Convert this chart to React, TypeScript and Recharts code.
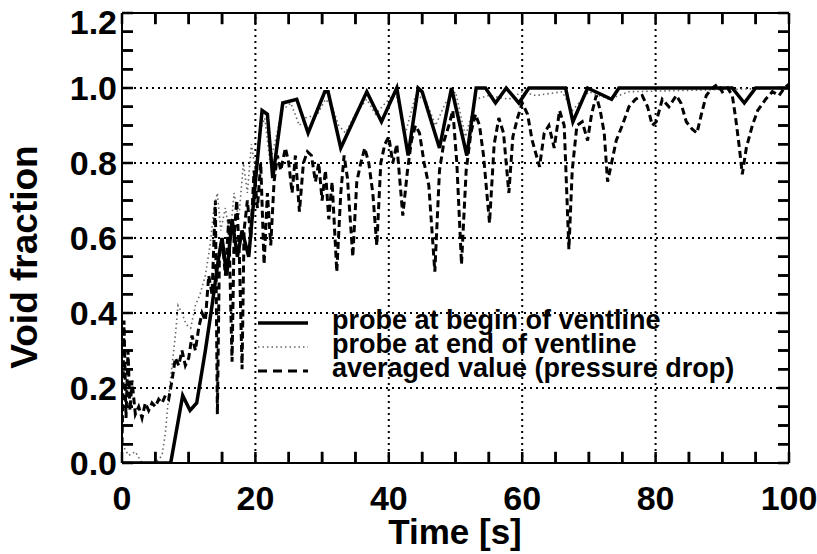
import React from 'react';
import { LineChart, Line, XAxis, YAxis, ReferenceLine, Legend } from 'recharts';

const FONT = '"Liberation Sans", Arial, Helvetica, sans-serif';

// tick positions
const xTicks = [0, 20, 40, 60, 80, 100];
const yTicks = [0, 0.2, 0.4, 0.6, 0.8, 1.0, 1.2];
const xAllTicks = [0, 5, 10, 15, 20, 25, 30, 35, 40, 45, 50, 55, 60, 65, 70, 75, 80, 85, 90, 95, 100];
const yAllTicks = [
  0, 0.05, 0.1, 0.15, 0.2, 0.25, 0.3, 0.35, 0.4, 0.45, 0.5, 0.55, 0.6,
  0.65, 0.7, 0.75, 0.8, 0.85, 0.9, 0.95, 1.0, 1.05, 1.1, 1.15, 1.2
];
const xMinorTicks = [5, 10, 15, 25, 30, 35, 45, 50, 55, 65, 70, 75, 85, 90, 95];
const yMinorTicks = [
  0.05, 0.1, 0.15, 0.25, 0.3, 0.35, 0.45, 0.5, 0.55, 0.65, 0.7, 0.75,
  0.85, 0.9, 0.95, 1.05, 1.1, 1.15
];

// probe at begin of ventline
const beginTime = [
  0, 7.3, 9.1, 10.2, 11.2, 12.5, 13.5, 14.5, 15, 15.7,
  16.5, 17.3, 18, 19, 20, 21, 21.8, 22.6, 24.1, 26.2,
  27.9, 30.4, 30.9, 32.8, 36.7, 38.9, 41.2, 42.9, 44.4, 45,
  47.6, 49.4, 51.7, 53.1, 54.5, 56, 57.6, 59.5, 61, 66.5,
  67.6, 69.8, 73.4, 74.5, 91.5, 93.3, 95, 100
];
const beginVoid = [
  0, 0, 0.18, 0.14, 0.16, 0.3, 0.42, 0.55, 0.6, 0.5,
  0.65, 0.55, 0.62, 0.55, 0.75, 0.94, 0.93, 0.76, 0.96, 0.97,
  0.88, 0.99, 0.99, 0.84, 0.99, 0.91, 1.0, 0.82, 1.0, 0.99,
  0.84, 1.0, 0.82, 1.0, 1.0, 0.96, 1.0, 0.96, 1.0, 1.0,
  0.91, 1.0, 0.97, 1.0, 1.0, 0.96, 1.0, 1.0
];

// probe at end of ventline
const endTime = [
  0, 1, 2, 3, 5, 6, 6.5, 7, 7.5, 8,
  8.4, 9, 9.6, 10.3, 11, 11.7, 12.5, 13.2, 13.8, 14.3,
  14.8, 15.5, 16.2, 16.8, 17.5, 18.2, 18.8, 19.4, 20, 20.6,
  21.4, 22.2, 23, 24, 25.3, 26.6, 27.5, 29.3, 30.5, 31.5,
  32.5, 33.5, 35, 36.7, 38, 39.5, 41, 42.5, 44, 45.5,
  47, 48.5, 50, 51.5, 53, 55, 58, 60, 62, 66,
  67.5, 70, 73, 76, 100
];
const endVoid = [
  0.05, 0.02, 0.03, 0, 0, 0.02, 0.08, 0.18, 0.26, 0.34,
  0.42, 0.4, 0.37, 0.36, 0.42, 0.45, 0.5, 0.58, 0.68, 0.72,
  0.62, 0.68, 0.6, 0.72, 0.65, 0.8, 0.72, 0.85, 0.78, 0.88,
  0.92, 0.8, 0.86, 0.94, 0.96, 0.9, 0.92, 0.93, 0.97, 0.95,
  0.9, 0.88, 0.93, 0.97, 0.93, 0.96, 0.99, 0.88, 0.98, 0.97,
  0.9, 0.96, 0.99, 0.87, 0.97, 0.98, 0.97, 0.99, 0.98, 0.99,
  0.94, 0.99, 0.97, 0.99, 1.0
];

// averaged value (pressure drop)
const avgTime = [
  0, 0.3, 0.6, 0.9, 1.2, 1.5, 2, 2.5, 3, 3.5,
  4, 4.5, 5, 5.5, 6, 6.5, 7, 7.5, 8, 8.5,
  9, 9.5, 10, 10.5, 11, 11.5, 12, 12.5, 13, 13.5,
  14, 14.3, 14.6, 15, 15.5, 16, 16.5, 16.8, 17.2, 17.6,
  18, 18.3, 18.8, 19.3, 19.8, 20.3, 20.8, 21.3, 21.8, 22.3,
  22.8, 23.3, 23.8, 24.5, 25, 25.5, 26, 26.6, 27.2, 27.8,
  28.4, 29, 29.5, 30, 30.5, 31, 31.5, 32.2, 32.8, 33.3,
  33.8, 34.6, 35.2, 35.8, 36.4, 37, 37.6, 38.2, 38.8, 39.4,
  40, 40.6, 41.2, 42.1, 42.8, 43.4, 44, 44.6, 45.3, 46,
  46.9, 47.6, 48.3, 49, 49.6, 50.2, 50.9, 51.6, 52.3, 53,
  53.6, 54.2, 55.1, 55.8, 56.5, 57.2, 58, 58.6, 59.3, 60,
  60.8, 61.5, 62.6, 63.3, 64, 64.8, 65.6, 66.3, 67, 67.5,
  68.2, 69, 69.8, 70.4, 71.1, 71.7, 72.3, 72.8, 73.4, 74.1,
  75, 76, 77, 78, 78.8, 79.5, 80.1, 81, 82, 83.1,
  83.8, 84.6, 85.5, 86.2, 87, 87.6, 88.5, 89.3, 90, 90.8,
  91.5, 92, 92.5, 93, 93.6, 94.5, 95.3, 96.5, 97.5, 98.5,
  99.3, 100
];
const avgVoid = [
  0.05, 0.38, 0.12, 0.3, 0.14, 0.22, 0.13, 0.15, 0.12, 0.16,
  0.14, 0.16, 0.15, 0.17, 0.16, 0.18, 0.17, 0.22, 0.28, 0.26,
  0.3, 0.26, 0.28, 0.34, 0.3, 0.36, 0.4, 0.38, 0.5, 0.45,
  0.7, 0.13, 0.55, 0.6, 0.5, 0.65, 0.27, 0.6, 0.7, 0.55,
  0.25, 0.62, 0.7, 0.6, 0.78, 0.68, 0.8, 0.53, 0.72, 0.58,
  0.75, 0.82, 0.78, 0.84, 0.8, 0.72, 0.82, 0.67, 0.8, 0.83,
  0.82, 0.75, 0.8, 0.7, 0.78, 0.65, 0.75, 0.51, 0.72, 0.82,
  0.76, 0.55, 0.75, 0.8, 0.84, 0.8, 0.72, 0.58, 0.8, 0.85,
  0.87, 0.8, 0.85, 0.66, 0.78, 0.86, 0.9, 0.88, 0.8, 0.74,
  0.51, 0.78, 0.86, 0.9, 0.94, 0.8, 0.53, 0.78, 0.88, 0.93,
  0.9, 0.82, 0.64, 0.85, 0.92, 0.88, 0.72, 0.87, 0.92, 0.96,
  0.93, 0.86, 0.79, 0.88, 0.9, 0.84, 0.94, 0.9, 0.57, 0.78,
  0.9, 0.91, 0.86, 0.93, 0.98, 0.94, 0.88, 0.75, 0.8, 0.86,
  0.9, 0.95, 0.97, 0.98, 0.95, 0.9, 0.91, 0.97, 0.95, 0.98,
  0.96, 0.91, 0.89, 0.88, 0.94, 0.98, 1.0, 1.01, 0.99, 1.0,
  0.98, 0.92, 0.85, 0.77, 0.84, 0.9, 0.94, 0.97, 0.99, 0.98,
  1.0, 1.01
];

const toRows = (ts: number[], vs: number[]) => ts.map((t, i) => ({ t, v: vs[i] }));

const beginData = toRows(beginTime, beginVoid);
const endData = toRows(endTime, endVoid);
const avgData = toRows(avgTime, avgVoid);

const legendItems = [
  { name: 'probe at begin of ventline', stroke: '#000', width: 3.5, dash: undefined },
  { name: 'probe at end of ventline', stroke: '#666', width: 1.6, dash: '1.5 3' },
  { name: 'averaged value (pressure drop)', stroke: '#000', width: 3, dash: '9 6' }
];

// plot box edges, from the chart margins below
const PLOT_TOP = 13;
const PLOT_RIGHT = 789;
const TICK_PX = 11;
// same tick length in axis units
const X_TICK = 1.65;
const Y_TICK = 0.03;

const renderLegend = () => (
  <svg width={500} height={84}>
    {legendItems.map((item, i) => (
      <g key={item.name}>
        <line
          x1={8}
          x2={58}
          y1={18 + i * 24}
          y2={18 + i * 24}
          stroke={item.stroke}
          strokeWidth={item.width}
          strokeDasharray={item.dash}
        />
        <text
          x={82}
          y={24 + i * 24}
          fontSize={27}
          fontWeight="bold"
          fontFamily={FONT}
          fill="#000"
        >
          {item.name}
        </text>
      </g>
    ))}
  </svg>
);

const YTitle = () => (
  <text
    transform="translate(24, 257) rotate(-90)"
    textAnchor="middle"
    dy="0.36em"
    fontSize={37}
    fontWeight="bold"
    fontFamily={FONT}
    fill="#000"
  >
    Void fraction
  </text>
);

const XTitle = () => (
  <text
    x={455}
    y={544}
    textAnchor="middle"
    fontSize={35}
    fontWeight="bold"
    fontFamily={FONT}
    fill="#000"
  >
    Time [s]
  </text>
);

// inward ticks on bottom and top, label on the major ones
const XTick = (props: any) => {
  const { x, y, payload } = props;
  const major = xTicks.includes(payload.value);
  return (
    <g>
      <rect x={x - 1.25} y={y - TICK_PX} width={2.5} height={TICK_PX} fill="#000" />
      <rect x={x - 1.25} y={PLOT_TOP} width={2.5} height={TICK_PX} fill="#000" />
      {major && (
        <text
          x={x}
          y={y + 23}
          dy="0.71em"
          textAnchor="middle"
          fontSize={34}
          fontWeight="bold"
          fontFamily={FONT}
          fill="#000"
        >
          {payload.value}
        </text>
      )}
    </g>
  );
};

// inward ticks on left and right, label on the major ones
const YTick = (props: any) => {
  const { x, y, payload } = props;
  const major = yTicks.some((t) => Math.abs(t - payload.value) < 1e-6);
  const top = payload.value > 1.19;
  return (
    <g>
      <rect x={x} y={y - 1.25} width={TICK_PX} height={2.5} fill="#000" />
      <rect x={PLOT_RIGHT - TICK_PX} y={y - 1.25} width={TICK_PX} height={2.5} fill="#000" />
      {major && (
        <text
          x={x - 5}
          y={top ? y + 9 : y}
          dy="0.355em"
          textAnchor="end"
          fontSize={34}
          fontWeight="bold"
          fontFamily={FONT}
          fill="#000"
        >
          {payload.value.toFixed(1)}
        </text>
      )}
    </g>
  );
};

const frameLine = { stroke: '#000', strokeWidth: 2 };
const gridProps = { stroke: '#000', strokeWidth: 2, strokeDasharray: '2 4' };
const tickProps = { stroke: '#000', strokeWidth: 2.5, ifOverflow: 'visible' as const };

export default function App() {
  return (
    <div style={{ position: 'absolute', left: 0, top: 0, width: 817, height: 554, background: '#fff' }}>
      <LineChart width={817} height={554} margin={{ top: PLOT_TOP, right: 817 - PLOT_RIGHT, bottom: 0, left: 0 }}>
        <XAxis
          xAxisId="b"
          dataKey="t"
          type="number"
          domain={[0, 100]}
          ticks={xAllTicks}
          interval={0}
          minTickGap={0}
          allowDataOverflow
          height={91}
          tickSize={0}
          tickMargin={0}
          tickLine={false}
          axisLine={frameLine}
          tick={<XTick />}
          label={<XTitle />}
        />
        <YAxis
          yAxisId="l"
          type="number"
          domain={[0, 1.2]}
          ticks={yAllTicks}
          interval={0}
          minTickGap={0}
          allowDataOverflow
          width={122}
          tickSize={0}
          tickMargin={0}
          tickLine={false}
          axisLine={frameLine}
          tick={<YTick />}
          label={<YTitle />}
        />
        {xTicks.slice(1, -1).map((t) => (
          <ReferenceLine key={`gx${t}`} xAxisId="b" yAxisId="l" x={t} {...gridProps} />
        ))}
        {yTicks.slice(1, -1).map((v) => (
          <ReferenceLine key={`gy${v}`} xAxisId="b" yAxisId="l" y={v} {...gridProps} />
        ))}
        {xMinorTicks.map((t) => (
          <ReferenceLine
            key={`tb${t}`}
            xAxisId="b"
            yAxisId="l"
            segment={[{ x: t, y: 0 }, { x: t, y: Y_TICK }]}
            {...tickProps}
          />
        ))}
        {xMinorTicks.map((t) => (
          <ReferenceLine
            key={`tt${t}`}
            xAxisId="b"
            yAxisId="l"
            segment={[{ x: t, y: 1.2 }, { x: t, y: 1.2 - Y_TICK }]}
            {...tickProps}
          />
        ))}
        {yMinorTicks.map((v) => (
          <ReferenceLine
            key={`tl${v}`}
            xAxisId="b"
            yAxisId="l"
            segment={[{ x: 0, y: v }, { x: X_TICK, y: v }]}
            {...tickProps}
          />
        ))}
        {yMinorTicks.map((v) => (
          <ReferenceLine
            key={`tr${v}`}
            xAxisId="b"
            yAxisId="l"
            segment={[{ x: 100, y: v }, { x: 100 - X_TICK, y: v }]}
            {...tickProps}
          />
        ))}
        <ReferenceLine xAxisId="b" yAxisId="l" x={100} stroke="#000" strokeWidth={2} />
        <ReferenceLine xAxisId="b" yAxisId="l" y={1.2} stroke="#000" strokeWidth={2} />
        <Line
          xAxisId="b"
          yAxisId="l"
          data={endData}
          dataKey="v"
          name="probe at end of ventline"
          type="linear"
          stroke="#666"
          strokeWidth={1.6}
          strokeDasharray="1.5 3"
          dot={false}
          isAnimationActive={false}
        />
        <Line
          xAxisId="b"
          yAxisId="l"
          data={avgData}
          dataKey="v"
          name="averaged value (pressure drop)"
          type="linear"
          stroke="#000"
          strokeWidth={3}
          strokeDasharray="7 4"
          dot={false}
          isAnimationActive={false}
        />
        <Line
          xAxisId="b"
          yAxisId="l"
          data={beginData}
          dataKey="v"
          name="probe at begin of ventline"
          type="linear"
          stroke="#000"
          strokeWidth={3.5}
          dot={false}
          isAnimationActive={false}
        />
        <Legend
          layout="horizontal"
          align="center"
          verticalAlign="middle"
          content={renderLegend}
          wrapperStyle={{ position: 'absolute', left: 250, top: 305, width: 500, height: 84 }}
        />
      </LineChart>
    </div>
  );
}
